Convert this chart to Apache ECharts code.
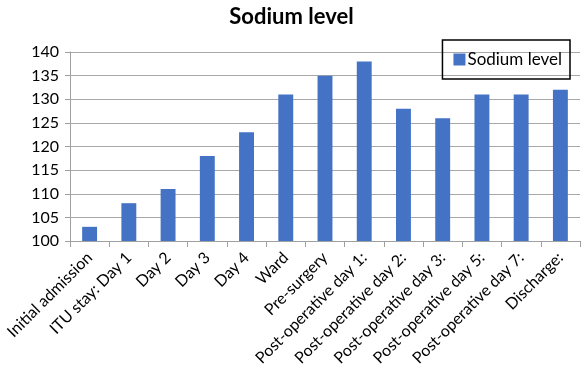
<!DOCTYPE html>
<html><head><meta charset="utf-8">
<script src="https://cdn.jsdelivr.net/npm/echarts@6/dist/echarts.min.js"></script>
<style>html,body{margin:0;padding:0;background:#fff}#c{width:583px;height:379px}</style>
</head><body><div id="c"></div>
<script>
const categories = ["Initial admission","ITU stay: Day 1","Day 2","Day 3","Day 4","Ward","Pre-surgery","Post-operative day 1:","Post-operative day 2:","Post-operative day 3:","Post-operative day 5:","Post-operative day 7:","Discharge:"];
const sodium = [103,108,111,118,123,131,135,138,128,126,131,131,132];
const yTicks = {min:100, max:140, interval:5};
const FONT = "Lato, 'Open Sans', sans-serif";
const chart = echarts.init(document.getElementById('c'));
chart.setOption({
  animation:false,
  title:{text:'Sodium level', left:'center', top:1, textStyle:{fontFamily:FONT, fontWeight:'bold', fontSize:22, color:'#000'}},
  legend:{right:13, top:40, itemWidth:12, itemHeight:12, itemGap:4, padding:[11,8,11,11], borderColor:'#000', borderWidth:1.5,
    textStyle:{fontFamily:FONT, fontSize:17, color:'#000', padding:[0,0,0,-3]}, icon:'rect', data:['Sodium level']},
  grid:{left:70, right:3, top:52, bottom:138},
  xAxis:{type:'category', data:categories, boundaryGap:true,
    axisLine:{lineStyle:{color:'#a0a0a0'}}, axisTick:{show:true, inside:false, length:6, lineStyle:{color:'#a0a0a0'}},
    axisLabel:{rotate:45, interval:0, fontFamily:FONT, fontSize:16, color:'#000', margin:14}},
  yAxis:{type:'value', min:yTicks.min, max:yTicks.max, interval:yTicks.interval,
    axisLine:{show:true, lineStyle:{color:'#a0a0a0'}}, axisTick:{show:true, length:5, lineStyle:{color:'#a0a0a0'}},
    splitLine:{lineStyle:{color:'#a8a8a8'}},
    axisLabel:{fontFamily:FONT, fontSize:16, color:'#000', margin:11}},
  series:[{name:'Sodium level', type:'bar', data:sodium, barWidth:'38%', itemStyle:{color:'#4472C4'}}]
});
</script></body></html>
